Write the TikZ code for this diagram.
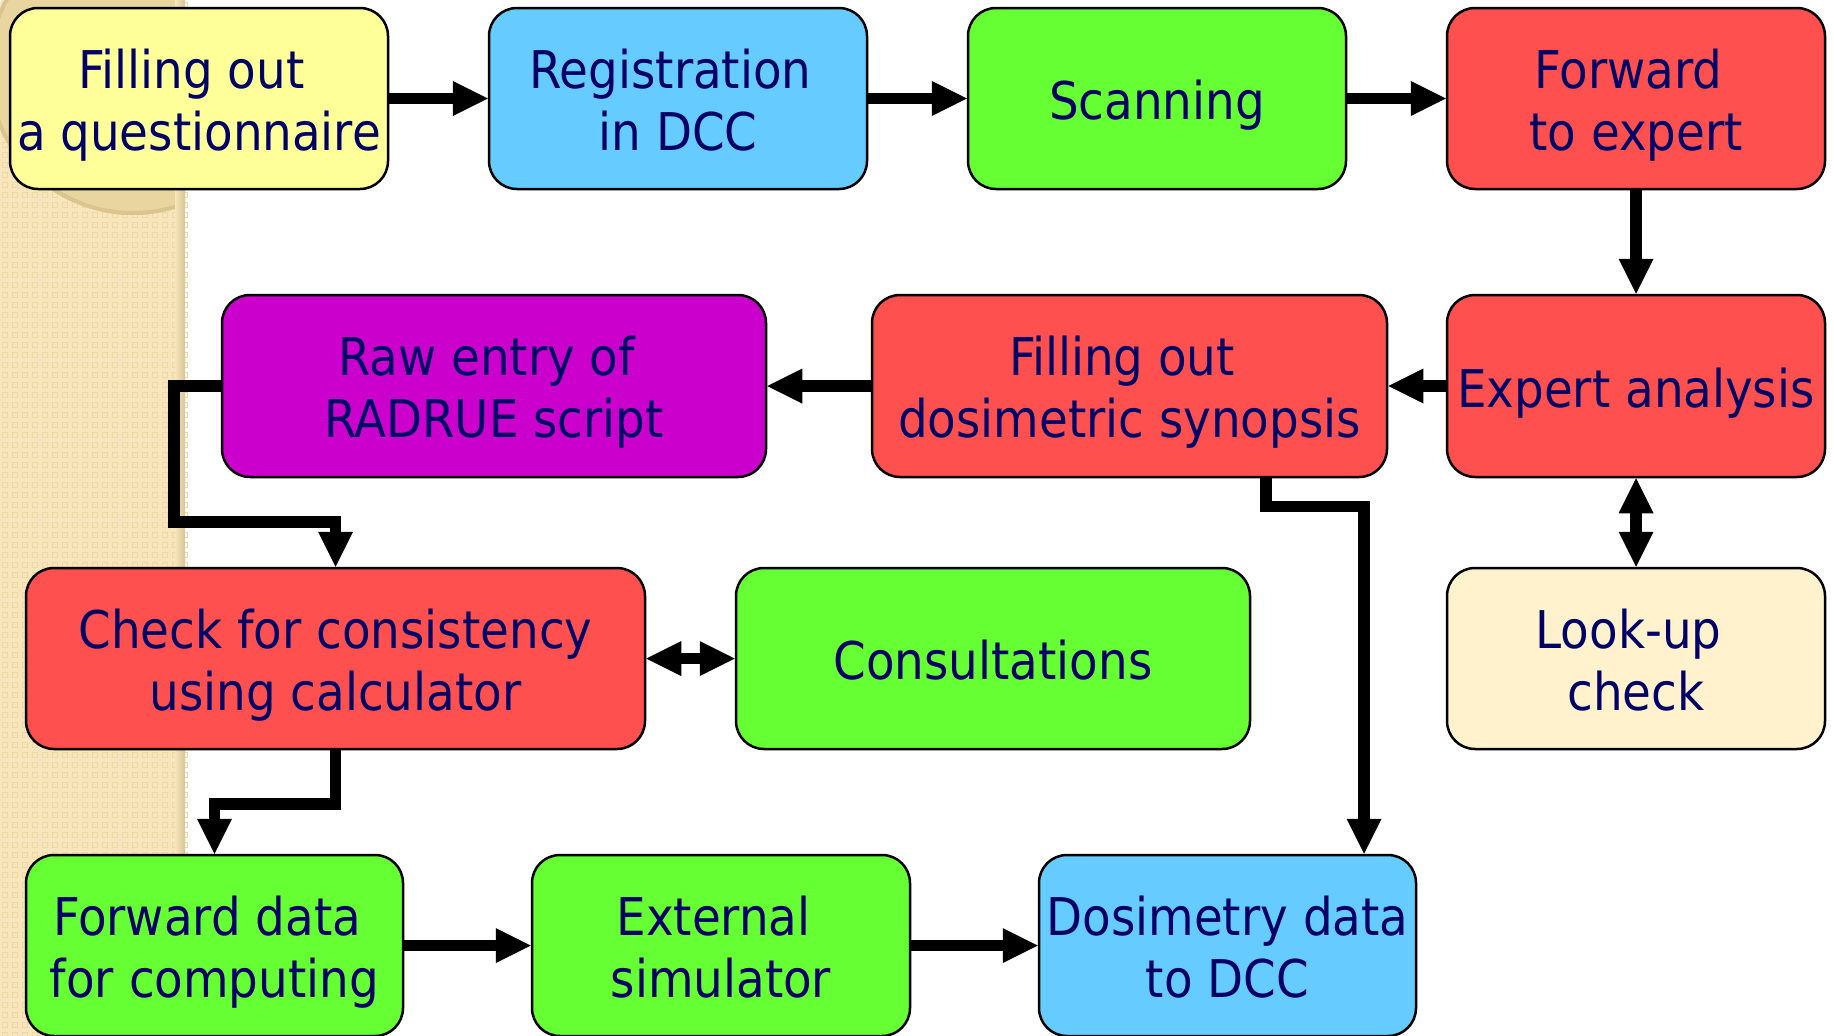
\documentclass[tikz,border=0pt]{standalone}
\usepackage{fontspec}
\setmainfont{DejaVu Sans Condensed}
\usetikzlibrary{arrows.meta,calc}
\definecolor{txt}{HTML}{000066}
\definecolor{cyellow}{HTML}{FFFF99}
\definecolor{cblue}{HTML}{66CCFF}
\definecolor{cgreen}{HTML}{66FF33}
\definecolor{cred}{HTML}{FF5050}
\definecolor{cmag}{HTML}{CC00CC}
\definecolor{ccream}{HTML}{FFF2CC}
\definecolor{stripbase}{HTML}{F7E6BC}
\definecolor{stripsq}{HTML}{EDD8A6}
\definecolor{circfill}{HTML}{E9D59F}
\definecolor{circedge}{HTML}{DCC48E}
\definecolor{stripshade}{HTML}{D8C496}
\newcommand\twol[2]{\vtop{\halign{\hfil##\hfil\cr#1\cr#2\cr}}}
\begin{document}
\begin{tikzpicture}[x=1pt,y=-1pt,
  box/.style={draw, line width=2.5pt, rounded corners=28pt, minimum height=181pt,
    inner sep=0pt, text=txt, font=\fontsize{52}{62}\selectfont},
  two/.style={text height=0pt, text depth=21pt},
  one/.style={text height=42pt, text depth=0pt},
  tipb/.style={},
  conn/.style={line width=11.5pt, line join=miter,
    -{Triangle[length=35pt,width=35pt,line width=0pt]}},
  dconn/.style={line width=11.5pt, line join=miter,
    {Triangle[length=35pt,width=35pt,line width=0pt]}-{Triangle[length=35pt,width=35pt,line width=0pt]}}
]
\useasboundingbox (0,0) rectangle (1834,1036);
\fill[white] (0,0) rectangle (1834,1036);
% decorative left strip
\fill[stripbase] (0,0) rectangle (185,1036);
\draw[stripsq, line width=1.2pt]
  \foreach \i in {0,...,18}{\foreach \j in {0,...,103}{ (\i*10+2.5,\j*10+2.5) rectangle ++(5,5) }};
\begin{scope}
  \clip (0,0) rectangle (185,1036);
  \fill[circfill] (133,69) circle[radius=146pt];
  \draw[circedge, line width=4pt] (133,69) circle[radius=144pt];
  \begin{scope}
    \clip (0,0) rectangle (60,35);
    \draw[white, line width=3pt] (133,69) circle[radius=150pt];
  \end{scope}
\end{scope}
\shade[left color=stripbase, right color=stripshade] (175,0) rectangle (185,1036);

% boxes
\node[box, fill=cyellow, minimum width=378pt, two] (q) at (199,98.5) {\twol{Filling out\ }{a questionnaire}};
\node[box, fill=cblue, minimum width=378pt, two] (reg) at (678,98.5) {\twol{Registration\ }{in DCC}};
\node[box, fill=cgreen, minimum width=378pt, one] (scan) at (1157,98.5) {Scanning};
\node[box, fill=cred, minimum width=378pt, two] (fwd) at (1636,98.5) {\twol{Forward\ }{to expert}};

\node[box, fill=cmag, minimum width=544pt, minimum height=182pt, two] (raw) at (494,386) {\twol{Raw entry of\ }{RADRUE script}};
\node[box, fill=cred, minimum width=515pt, minimum height=182pt, two] (syn) at (1129.5,386) {\twol{Filling out\ }{dosimetric synopsis}};
\node[box, fill=cred, minimum width=378pt, minimum height=182pt, one] (exp) at (1636,386) {Expert analysis};

\node[box, fill=cred, minimum width=619pt, two] (chk) at (335.5,658.5) {\twol{Check for consistency}{using calculator}};
\node[box, fill=cgreen, minimum width=514pt, one] (cons) at (993,658.5) {Consultations};
\node[box, fill=ccream, minimum width=378pt, two] (look) at (1636,658.5) {\twol{Look-up\ }{check}};

\node[box, fill=cgreen, minimum width=377pt, two] (fdat) at (214.5,945.5) {\twol{Forward data\ }{for computing}};
\node[box, fill=cgreen, minimum width=378pt, two] (ext) at (721,945.5) {\twol{External\ }{simulator}};
\node[box, fill=cblue, minimum width=377pt, two] (dos) at (1227.5,945.5) {\twol{Dosimetry data}{to DCC}};

% connectors
\draw[conn] (q.east) -- (reg.west);
\draw[conn] (reg.east) -- (scan.west);
\draw[conn] (scan.east) -- (fwd.west);
\draw[conn] (fwd.south) -- (exp.north);
\draw[conn] (exp.west) -- (syn.east);
\draw[conn] (syn.west) -- (raw.west -| raw.east);
\draw[conn] (raw.west) -- ++(-47,0) |- ([yshift=45pt]chk.north) -- (chk.north);
\draw[conn] (chk.south) -- ++(0,53.5) -| (fdat.north);
\draw[conn] (fdat.east) -- (ext.west);
\draw[conn] (ext.east) -- (dos.west);
\draw[conn] ([xshift=136.5pt]syn.south) -- ++(0,28) -| ([xshift=136.5pt]dos.north);
\draw[dconn] (chk.east) -- (cons.west);
\draw[dconn] (exp.south) -- (look.north);
\end{tikzpicture}
\end{document}
